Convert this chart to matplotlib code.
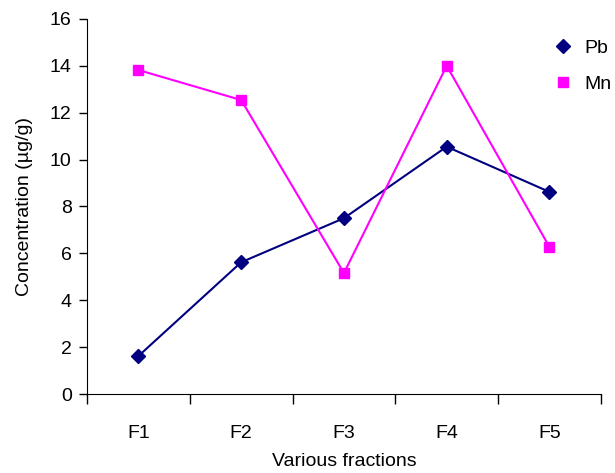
import numpy as np
import matplotlib.pyplot as plt

plt.rcParams['font.family'] = ['Liberation Sans', 'DejaVu Sans']

fractions = ['F1', 'F2', 'F3', 'F4', 'F5']
pb = [1.62, 5.62, 7.5, 10.55, 8.62]
mn = [13.82, 12.54, 5.16, 14.0, 6.27]

fig = plt.figure(figsize=(6.15, 4.73), dpi=100)
ax = fig.add_axes([0.1415, 0.167, 0.8355, 0.793])

x = np.arange(len(fractions)) + 0.5
ax.plot(x, pb, color='#000080', marker='D', markersize=7.5, lw=1.5, label='Pb')
ax.plot(x, mn, color='#ff00ff', marker='s', markersize=7.5, lw=1.5, label='Mn')

ax.set_xlim(0, len(fractions))
ax.set_ylim(0, 16)
ax.set_yticks(np.arange(0, 17, 2))
ax.set_xticks(np.arange(len(fractions) + 1))
ax.set_xticklabels([])
ax.set_xticks(x, minor=True)
ax.set_xticklabels(fractions, minor=True)
ax.tick_params(axis='x', which='minor', length=0, pad=22, labelsize=14)
ax.tick_params(axis='x', which='major', length=7, width=1)
ax.tick_params(axis='y', length=6, width=1, labelsize=14, pad=5)

for s in ['top', 'right']:
    ax.spines[s].set_visible(False)

ax.set_xlabel('Various fractions', fontsize=14, labelpad=8)
ax.set_ylabel('Concentration (µg/g)', fontsize=14, labelpad=12)

fig.legend(loc='upper left', bbox_to_anchor=(0.884, 0.933), frameon=False,
           fontsize=14, handlelength=1.2, handletextpad=0.5, labelspacing=0.95,
           borderaxespad=0.0)
for h in fig.legends[0].get_lines():
    h.set_linestyle('none')

fig.savefig('out.png', dpi=100)
